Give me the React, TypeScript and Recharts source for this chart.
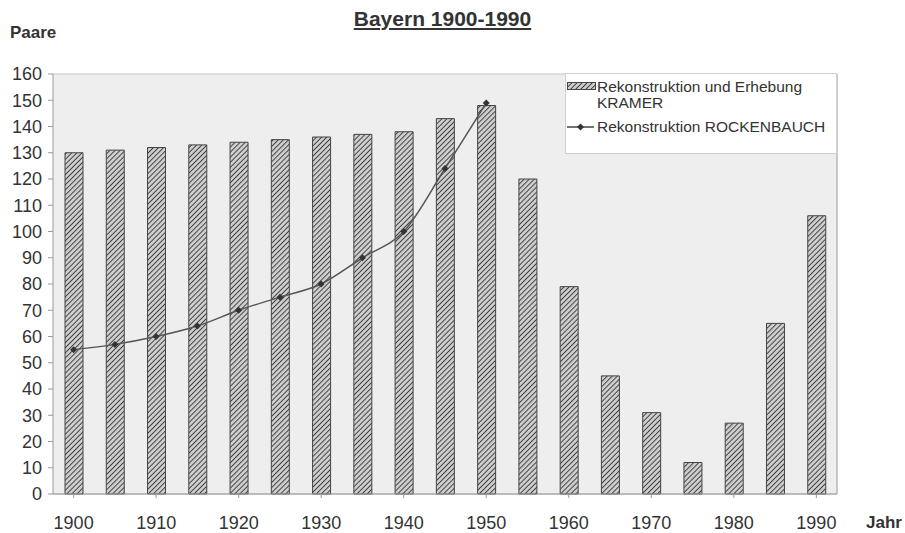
import { ComposedChart, Bar, Line, XAxis, YAxis, CartesianGrid } from 'recharts'

const years = [
  '1900', '1905', '1910', '1915', '1920', '1925', '1930', '1935', '1940', '1945',
  '1950', '1955', '1960', '1965', '1970', '1975', '1980', '1985', '1990',
]
const kramer = [130, 131, 132, 133, 134, 135, 136, 137, 138, 143, 148, 120, 79, 45, 31, 12, 27, 65, 106]
const rockenbauch = [55, 57, 60, 64, 70, 75, 80, 90, 100, 124, 149, null, null, null, null, null, null, null, null]
const yTicks = [0, 10, 20, 30, 40, 50, 60, 70, 80, 90, 100, 110, 120, 130, 140, 150, 160]

const data = years.map((y, i) => ({ year: y, kramer: kramer[i], rockenbauch: rockenbauch[i] }))

const font = '"Liberation Sans", Arial, sans-serif'

function Diamond(props: any) {
  const { cx, cy, index } = props
  if (cy == null || rockenbauch[index] == null) return <g key={`d${index}`} />
  const r = 3.5
  return (
    <path
      key={`d${index}`}
      d={`M${cx},${cy - r} L${cx + r},${cy} L${cx},${cy + r} L${cx - r},${cy} Z`}
      fill="#333"
    />
  )
}

function LegendBox() {
  return (
    <div
      style={{
        position: 'absolute',
        left: 565,
        top: 73,
        width: 270,
        height: 79,
        background: '#fff',
        border: '1px solid #d0d0d0',
        fontFamily: font,
        fontSize: 15.5,
        color: '#333',
      }}
    >
      <svg width={30} height={9} style={{ position: 'absolute', left: 1, top: 8 }}>
        <rect x={0.5} y={0.5} width={28} height={7} fill="url(#hatch)" stroke="#444" />
      </svg>
      <div style={{ position: 'absolute', left: 31, top: 5, lineHeight: '16px', whiteSpace: 'nowrap' }}>
        Rekonstruktion und Erhebung
        <br />
        KRAMER
      </div>
      <svg width={32} height={10} style={{ position: 'absolute', left: 0, top: 48 }}>
        <line x1={1} y1={5} x2={28} y2={5} stroke="#444" strokeWidth={1.5} />
        <path d="M14.5,1.5 L18,5 L14.5,8.5 L11,5 Z" fill="#333" />
      </svg>
      <div style={{ position: 'absolute', left: 31, top: 45, lineHeight: '16px', whiteSpace: 'nowrap' }}>
        Rekonstruktion ROCKENBAUCH
      </div>
    </div>
  )
}

export default function App() {
  return (
    <div style={{ position: 'relative', width: 905, height: 533, background: '#fff', fontFamily: font }}>
      <style>{`body{margin:0}`}</style>
      <svg width={0} height={0} style={{ position: 'absolute' }}>
        <defs>
          <pattern id="hatch" patternUnits="userSpaceOnUse" width={3.6} height={3.6} patternTransform="rotate(45)">
            <rect width={3.6} height={3.6} fill="#cdcdcd" />
            <line x1={0} y1={0} x2={0} y2={3.6} stroke="#3a3a3a" strokeWidth={1.8} />
          </pattern>
        </defs>
      </svg>
      <div
        style={{
          position: 'absolute',
          left: 0,
          width: 885,
          top: 8,
          textAlign: 'center',
          fontWeight: 'bold',
          fontSize: 21,
          lineHeight: '21px',
          textDecoration: 'underline',
          color: '#333',
        }}
      >
        Bayern 1900-1990
      </div>
      <div style={{ position: 'absolute', left: 10, top: 24, fontWeight: 'bold', fontSize: 17, lineHeight: '17px', color: '#333' }}>
        Paare
      </div>
      <div style={{ position: 'absolute', left: 866, top: 514, fontWeight: 'bold', fontSize: 17, lineHeight: '17px', color: '#333' }}>
        Jahr
      </div>
      <ComposedChart
        width={905}
        height={533}
        data={data}
        margin={{ top: 74, right: 67, bottom: 9, left: 0 }}
        barCategoryGap="0%"
        style={{ position: 'absolute', left: 0, top: 0 }}
      >
        <CartesianGrid vertical={false} stroke="#c4c4c4" fill="#eeeeee" />
        <XAxis
          dataKey="year"
          interval={1}
          height={30}
          tickSize={4}
          tickMargin={18}
          axisLine={{ stroke: '#999' }}
          tickLine={{ stroke: '#999' }}
          tick={{ fill: '#333', fontSize: 18, fontFamily: font }}
        />
        <YAxis
          yAxisId="left"
          domain={[0, 160]}
          ticks={yTicks}
          interval={0}
          width={53}
          tickSize={5}
          tickMargin={6}
          axisLine={{ stroke: '#999' }}
          tickLine={{ stroke: '#999' }}
          tick={{ fill: '#333', fontSize: 18, fontFamily: font }}
        />
        <YAxis yAxisId="right" orientation="right" domain={[0, 160]} width={1} tick={false} tickLine={false} axisLine={{ stroke: '#999' }} />
        <Bar
          yAxisId="left"
          dataKey="kramer"
          barSize={18}
          fill="url(#hatch)"
          stroke="#444"
          strokeWidth={1}
          isAnimationActive={false}
        />
        <Line
          yAxisId="left"
          type="monotone"
          dataKey="rockenbauch"
          stroke="#555"
          strokeWidth={1.5}
          dot={<Diamond />}
          activeDot={false}
          connectNulls={false}
          isAnimationActive={false}
        />
      </ComposedChart>
      <LegendBox />
    </div>
  )
}
